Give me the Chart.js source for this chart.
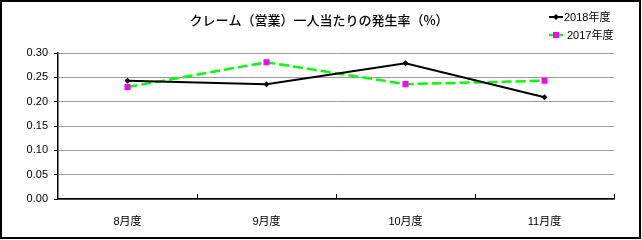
<!DOCTYPE html>
<html><head><meta charset="utf-8">
<script src="https://cdn.jsdelivr.net/npm/chart.js@4/dist/chart.umd.min.js"></script>
<style>html,body{margin:0;padding:0;background:#fff}#wrap{width:642px;height:240px;position:relative}</style>
</head><body><div id="wrap"><canvas id="c" width="642" height="240"></canvas></div>
<script>
const titleText = 'クレーム（営業）一人当たりの発生率（%）';
const categories = ['8月度', '9月度', '10月度', '11月度'];
const series2018 = [0.243, 0.236, 0.279, 0.209];
const series2017 = [0.230, 0.281, 0.236, 0.243];
const label2018 = '2018年度';
const label2017 = '2017年度';

const FONT = "'Liberation Sans', 'Noto Sans CJK JP', sans-serif";

const deco = {
  id: 'deco',
  afterDraw(chart) {
    const ctx = chart.ctx;
    const xs = chart.scales.x;
    ctx.save();
    // x tick marks (inside, between categories)
    ctx.strokeStyle = '#000'; ctx.lineWidth = 1;
    const n = categories.length;
    for (let i = 1; i <= n; i++) {
      let x = i < n ? (xs.getPixelForValue(i - 1) + xs.getPixelForValue(i)) / 2 : xs.right;
      x = Math.round(x) + 0.5;
      ctx.beginPath(); ctx.moveTo(x, xs.top - 5); ctx.lineTo(x, xs.top); ctx.stroke();
    }
    // title
    ctx.fillStyle = '#000';
    ctx.font = "500 13px 'Noto Sans CJK JP', sans-serif";
    ctx.textAlign = 'center'; ctx.textBaseline = 'middle';
    ctx.fillText(titleText, 319, 20);
    // legend
    ctx.font = "11px " + FONT;
    ctx.textAlign = 'left';
    const ds = chart.data.datasets;
    const rows = [{d: ds[0], y: 17, tx: 564}, {d: ds[1], y: 35, tx: 567}];
    rows.forEach(r => {
      ctx.strokeStyle = r.d.borderColor; ctx.lineWidth = r.d.borderWidth;
      ctx.setLineDash([]);
      ctx.beginPath(); ctx.moveTo(549, r.y); ctx.lineTo(563, r.y); ctx.stroke();
      ctx.fillStyle = r.d.pointBackgroundColor;
      if (r.d.pointStyle === 'rect') {
        ctx.fillRect(553, r.y - 3, 6, 6);
      } else {
        ctx.beginPath(); ctx.moveTo(556, r.y - 3); ctx.lineTo(559, r.y); ctx.lineTo(556, r.y + 3); ctx.lineTo(553, r.y); ctx.closePath(); ctx.fill();
      }
      ctx.fillStyle = '#000';
      ctx.fillText(r.d.label, r.tx, r.y + 1);
    });
    // outer border
    ctx.strokeStyle = '#000'; ctx.lineWidth = 2;
    ctx.strokeRect(1, 1, 639, 237);
    ctx.restore();
  }
};

new Chart(document.getElementById('c'), {
  type: 'line',
  data: {
    labels: categories,
    datasets: [
      { label: label2018, data: series2018, borderColor: '#000000', borderWidth: 2,
        pointStyle: 'rectRot', pointRadius: 3, pointBackgroundColor: '#000000', pointBorderColor: '#000000', pointBorderWidth: 0,
        tension: 0 },
      { label: label2017, data: series2017, borderColor: '#00FF00', borderWidth: 2.5, borderDash: [10, 4],
        pointStyle: 'rect', pointRadius: 4.3, pointBackgroundColor: '#FF00FF', pointBorderColor: '#FF00FF', pointBorderWidth: 0,
        tension: 0 }
    ]
  },
  options: {
    responsive: false, animation: false, devicePixelRatio: 1,
    layout: { padding: { top: 53, right: 28, left: 0, bottom: 0 } },
    plugins: { legend: { display: false }, title: { display: false }, tooltip: { enabled: false } },
    scales: {
      x: {
        offset: true,
        grid: { display: false, offset: true },
        border: { display: true, color: '#000', width: 1.5 },
        ticks: { font: { family: FONT, size: 11 }, color: '#000', padding: 8, maxRotation: 0 },
        afterFit(s) { s.height = 41; }
      },
      y: {
        min: 0, max: 0.3,
        grid: { color: '#999', lineWidth: 1, tickLength: 4, tickColor: '#000' },
        border: { display: true, color: '#000', width: 1.5 },
        ticks: { stepSize: 0.05, font: { family: FONT, size: 11 }, color: '#000', padding: 6,
          callback: v => v.toFixed(2) },
        afterFit(s) { s.width = 58; }
      }
    }
  },
  plugins: [deco]
});
</script></body></html>
